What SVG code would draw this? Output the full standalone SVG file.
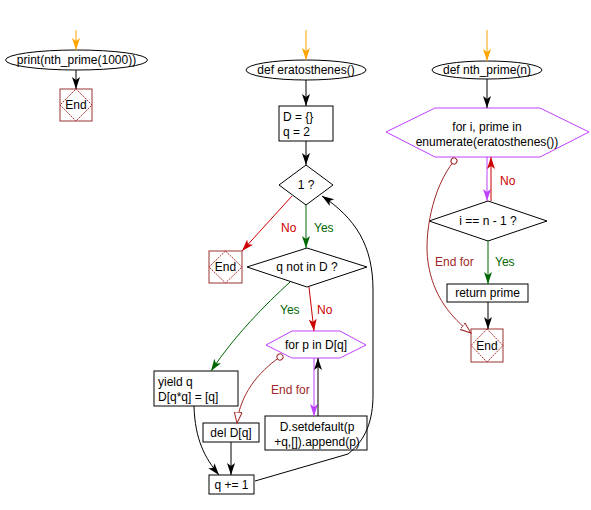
<svg xmlns="http://www.w3.org/2000/svg" width="591" height="510" viewBox="0 0 591 510">
<style>
text{font-family:"Liberation Sans",Arial,sans-serif;font-size:12px;fill:#000}
.m{text-anchor:middle}
.box{fill:#fff;stroke:#000;stroke-width:1}
.hex{fill:#fff;stroke:#C040FF;stroke-width:1}
.endb{fill:#fff;stroke:#993333;stroke-width:1}
.endd{fill:none;stroke:#B03030;stroke-width:1;stroke-dasharray:2,1}
.c{fill:none;stroke-width:1}
.k{stroke:#000}.o{stroke:#FFA500}.r{stroke:#CC0000}.g{stroke:#006600}.p{stroke:#C040FF}.d{stroke:#A02828}
.tr{fill:#CC0000}.tg{fill:#006600}.td{fill:#A02828}
</style>
<defs>
<marker id="ak" markerUnits="userSpaceOnUse" markerWidth="13" markerHeight="10" refX="12" refY="5" orient="auto"><path d="M0,1 L12,5 L0,9 L3,5 z" fill="#000"/></marker>
<marker id="ao" markerUnits="userSpaceOnUse" markerWidth="13" markerHeight="10" refX="12" refY="5" orient="auto"><path d="M0,1 L12,5 L0,9 L3,5 z" fill="#FFA500"/></marker>
<marker id="ar" markerUnits="userSpaceOnUse" markerWidth="13" markerHeight="10" refX="12" refY="5" orient="auto"><path d="M0,1 L12,5 L0,9 L3,5 z" fill="#CC0000"/></marker>
<marker id="ag" markerUnits="userSpaceOnUse" markerWidth="13" markerHeight="10" refX="12" refY="5" orient="auto"><path d="M0,1 L12,5 L0,9 L3,5 z" fill="#006600"/></marker>
<marker id="ap" markerUnits="userSpaceOnUse" markerWidth="13" markerHeight="10" refX="12" refY="5" orient="auto"><path d="M0,1 L12,5 L0,9 L3,5 z" fill="#C040FF"/></marker>
<marker id="ad" markerUnits="userSpaceOnUse" markerWidth="13" markerHeight="10" refX="11" refY="5" orient="auto"><path d="M0,1 L11,5 L0,9 z" fill="#fff" stroke="#A02828"/></marker>
<marker id="cd" markerUnits="userSpaceOnUse" markerWidth="8" markerHeight="8" refX="4" refY="4" orient="auto"><circle cx="4" cy="4" r="3" fill="#fff" stroke="#A02828"/></marker>
</defs>

<g id="print_call">
<ellipse cx="76.5" cy="60" rx="71" ry="10" class="box"/>
<text class="m" x="76.5" y="64">print(nth_prime(1000))</text>
</g>
<g id="end_left">
<rect x="60" y="89" width="32" height="32" class="endb"/>
<polygon points="76,89 92,105 76,121 60,105" class="endd"/>
<text class="m" x="76" y="109">End</text>
</g>

<g id="def_eratosthenes">
<ellipse cx="306" cy="70" rx="60" ry="10" class="box"/>
<text class="m" x="306" y="74">def eratosthenes()</text>
</g>
<g id="init">
<rect x="279" y="106" width="54" height="35" class="box"/>
<text x="283" y="121">D = {}</text>
<text x="283" y="136">q = 2</text>
</g>
<g id="cond_1">
<polygon points="306,165 333,185 306,205 279,185" class="box"/>
<text class="m" x="306" y="189">1 ?</text>
</g>
<g id="end_mid">
<rect x="209" y="251" width="33" height="32" class="endb"/>
<polygon points="225.5,251 242,267 225.5,283 209,267" class="endd"/>
<text class="m" x="225.5" y="271">End</text>
</g>
<g id="cond_q">
<polygon points="307,248 367,267 307,287 247,267" class="box"/>
<text class="m" x="307" y="271">q not in D ?</text>
</g>
<g id="for_p">
<polygon points="266,345 292,331 340,331 366,345 340,358 292,358" class="hex"/>
<text class="m" x="316" y="349">for p in D[q]</text>
</g>
<g id="yield_q">
<rect x="154" y="371" width="84" height="35" class="box"/>
<text x="158" y="386">yield q</text>
<text x="158" y="401">D[q*q] = [q]</text>
</g>
<g id="del_dq">
<rect x="203" y="423" width="56" height="19" class="box"/>
<text class="m" x="231" y="437">del D[q]</text>
</g>
<g id="setdefault">
<rect x="265" y="416" width="102" height="34" class="box"/>
<text class="m" x="317" y="431">D.setdefault(p</text>
<text class="m" x="317" y="446">+q,[]).append(p)</text>
</g>
<g id="q_inc">
<rect x="209" y="475" width="45" height="19" class="box"/>
<text class="m" x="231.5" y="489">q += 1</text>
</g>

<g id="def_nth_prime">
<ellipse cx="487" cy="70" rx="55" ry="9" class="box"/>
<text class="m" x="487" y="74">def nth_prime(n)</text>
</g>
<g id="for_i">
<polygon points="386,132 435,108 540,108 589,132 540,157 435,157" class="hex"/>
<text class="m" x="487" y="131">for i, prime in</text>
<text class="m" x="487" y="146">enumerate(eratosthenes())</text>
</g>
<g id="cond_i">
<polygon points="488,201 547,221 488,241 429,221" class="box"/>
<text class="m" x="488" y="225">i == n - 1 ?</text>
</g>
<g id="return_prime">
<rect x="447" y="284" width="81" height="18" class="box"/>
<text class="m" x="487.5" y="297">return prime</text>
</g>
<g id="end_right">
<rect x="471" y="329" width="32" height="33" class="endb"/>
<polygon points="487,329 503,345.5 487,362 471,345.5" class="endd"/>
<text class="m" x="487" y="350">End</text>
</g>

<g id="connectors">
<!-- left -->
<path class="c o" d="M76,30 L76,50" marker-end="url(#ao)"/>
<path class="c k" d="M76,70 L76,89" marker-end="url(#ak)"/>
<!-- middle -->
<path class="c o" d="M306,30 L306,60" marker-end="url(#ao)"/>
<path class="c k" d="M306,80 L306,106" marker-end="url(#ak)"/>
<path class="c k" d="M306,141 L306,165" marker-end="url(#ak)"/>
<path class="c r" d="M292,196 L242,251" marker-end="url(#ar)"/>
<path class="c g" d="M306,205 L306,248" marker-end="url(#ag)"/>
<path class="c r" d="M309,287 L314,331" marker-end="url(#ar)"/>
<path class="c g" d="M290,282 C265,305 235,335 211,371" marker-end="url(#ag)"/>
<path class="c p" d="M314,358 L314,416" marker-end="url(#ap)"/>
<path class="c k" d="M318,416 L318,358" marker-end="url(#ak)"/>
<path class="c d" d="M280,357 C258,372 240,395 237,423" marker-start="url(#cd)" marker-end="url(#ad)"/>
<path class="c k" d="M194,406 C195,440 205,458 219,475" marker-end="url(#ak)"/>
<path class="c k" d="M231,442 L231,475" marker-end="url(#ak)"/>
<path class="c k" d="M255,481 L348,454 C366,440 373,420 373,395 L373,290 C373,245 355,218 322,196" marker-end="url(#ak)"/>
<!-- right -->
<path class="c o" d="M487,30 L487,61" marker-end="url(#ao)"/>
<path class="c k" d="M487,79 L487,108" marker-end="url(#ak)"/>
<path class="c p" d="M487,157 L487,201" marker-end="url(#ap)"/>
<path class="c r" d="M491,201 L491,157" marker-end="url(#ar)"/>
<path class="c g" d="M488,241 L488,284" marker-end="url(#ag)"/>
<path class="c k" d="M488,302 L488,329" marker-end="url(#ak)"/>
<path class="c d" d="M454,161 C432,188 424,235 428,262 C433,297 452,318 471,333" marker-start="url(#cd)" marker-end="url(#ad)"/>
<!-- labels -->
<text class="tr" x="281" y="232">No</text>
<text class="tg" x="314" y="232">Yes</text>
<text class="tr" x="317" y="314">No</text>
<text class="tg" x="280" y="314">Yes</text>
<text class="td" x="271" y="394">End for</text>
<text class="tr" x="500" y="185">No</text>
<text class="tg" x="495" y="266">Yes</text>
<text class="td" x="435" y="266">End for</text>
</g>
</svg>
